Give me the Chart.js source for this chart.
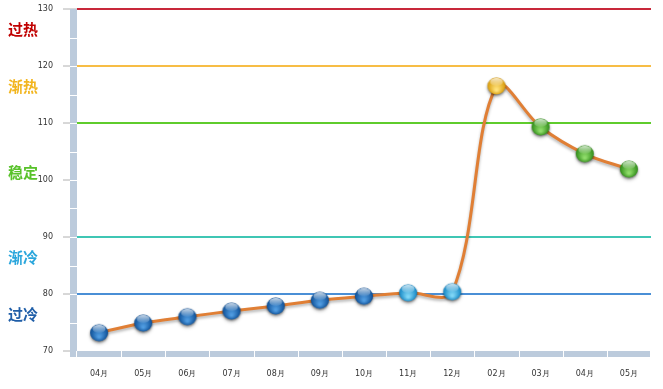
<!DOCTYPE html>
<html><head><meta charset="utf-8">
<script src="https://cdn.jsdelivr.net/npm/chart.js@4/dist/chart.umd.min.js"></script>
<style>html,body{margin:0;padding:0;background:#fff}#wrap{width:663px;height:389px;position:relative}</style>
</head><body><div id="wrap"><canvas id="c" width="663" height="389"></canvas></div>
<script>
const categories = ['04月','05月','06月','07月','08月','09月','10月','11月','12月','02月','03月','04月','05月'];
const values = [73.2, 74.9, 76.0, 77.0, 77.9, 78.9, 79.6, 80.2, 80.4, 116.5, 109.3, 104.6, 101.9];
const yTicks = [70, 80, 90, 100, 110, 120, 130];
const thresholds = [80, 90, 110, 120, 130];
const thresholdColors = ['#4a8fd6', '#3fc6b4', '#5fcc2c', '#f7bd45', '#c8283a'];
const zoneNames = ['过热', '渐热', '稳定', '渐冷', '过冷'];
const zoneLow = [120, 110, 90, 80, 70];
const zoneHigh = [130, 120, 110, 90, 80];
const zoneColors = ['#c00000', '#f2b51e', '#58c22a', '#2aa6dc', '#1f5ea8'];

function sphere(base, light) {
  const s = 22, c = document.createElement('canvas');
  c.width = s; c.height = s;
  const g = c.getContext('2d');
  const r = 9, cx = 11, cy = 11;
  g.shadowColor = 'rgba(0,0,0,0.35)'; g.shadowBlur = 2; g.shadowOffsetY = 1;
  const grad = g.createRadialGradient(cx, cy + 4, 1, cx, cy, r);
  grad.addColorStop(0, light); grad.addColorStop(1, base);
  g.fillStyle = grad; g.beginPath(); g.ellipse(cx, cy, r, r - 0.5, 0, 0, Math.PI * 2); g.fill();
  g.shadowColor = 'transparent';
  const hg = g.createLinearGradient(0, cy - r, 0, cy);
  hg.addColorStop(0, 'rgba(255,255,255,0.85)'); hg.addColorStop(1, 'rgba(255,255,255,0.05)');
  g.fillStyle = hg; g.beginPath(); g.ellipse(cx, cy - 4, 6.5, 4, 0, 0, Math.PI * 2); g.fill();
  return c;
}
const balls = {
  cold: sphere('#0d4f96', '#4f9be0'),
  cool: sphere('#1386c4', '#7fd6f6'),
  stable: sphere('#2f8c18', '#8fdc6a'),
  warm: sphere('#d89a08', '#ffe27a')
};
function ballFor(v) {
  if (v < 80) return balls.cold;
  if (v < 90) return balls.cool;
  if (v < 110) return balls.stable;
  return balls.warm;
}

const decor = {
  id: 'decor',
  beforeDatasetsDraw(chart) {
    const { ctx, chartArea: a, scales: { x, y } } = chart;
    ctx.save();
    ctx.fillStyle = '#bccbdc';
    ctx.fillRect(a.left - 7, a.top, 7, a.bottom - a.top + 6);
    ctx.fillStyle = '#ffffff';
    for (let v = 75; v < 130; v += 5) {
      const py = Math.round(y.getPixelForValue(v));
      ctx.fillRect(a.left - 7, py, 7, 1);
    }
    ctx.fillStyle = '#bccbdc';
    ctx.fillRect(a.left - 7, a.bottom, a.right - a.left + 6, 6);
    ctx.fillStyle = '#ffffff';
    ctx.fillRect(a.left - 1, a.bottom, 1, 6);
    for (let i = 1; i < categories.length; i++) {
      const px = Math.round((x.getPixelForValue(i - 1) + x.getPixelForValue(i)) / 2);
      ctx.fillRect(px, a.bottom, 1, 6);
    }
    ctx.font = 'bold 15px "Noto Sans CJK SC"';
    ctx.textAlign = 'left';
    ctx.textBaseline = 'middle';
    zoneNames.forEach((n, i) => {
      ctx.fillStyle = zoneColors[i];
      const py = y.getPixelForValue((zoneLow[i] + zoneHigh[i]) / 2) - 8;
      ctx.fillText(n, 8, py);
    });
    ctx.restore();
  },
  beforeDatasetDraw(chart) {
    const ctx = chart.ctx;
    ctx.save();
    ctx.shadowColor = 'rgba(0,0,0,0.3)';
    ctx.shadowBlur = 3;
    ctx.shadowOffsetY = 2;
  },
  afterDatasetDraw(chart) { chart.ctx.restore(); }
};

new Chart(document.getElementById('c'), {
  type: 'line',
  data: {
    labels: categories,
    datasets: [{
      data: values,
      borderColor: '#e07f35',
      borderWidth: 3,
      tension: 0.35,
      fill: false,
      clip: false,
      pointStyle: values.map(ballFor),
      pointRadius: 10,
      pointHoverRadius: 10
    }]
  },
  options: {
    responsive: false,
    animation: false,
    events: [],
    layout: { autoPadding: false, padding: { left: 0, right: 12, top: 9, bottom: 0 } },
    plugins: { legend: { display: false }, tooltip: { enabled: false } },
    scales: {
      x: {
        offset: true,
        grid: { display: false },
        border: { display: false },
        ticks: { color: '#333', font: { family: 'DejaVu Sans', size: 8 }, padding: 10, maxRotation: 0, autoSkip: false },
        afterFit(s) { s.height = 38; s.paddingLeft = 0; s.paddingRight = 0; }
      },
      y: {
        min: 70, max: 130,
        afterBuildTicks(s) { s.ticks = yTicks.map(v => ({ value: v })); },
        grid: {
          color: ctx => { const i = thresholds.indexOf(ctx.tick && ctx.tick.value); return i >= 0 ? thresholdColors[i] : 'rgba(0,0,0,0)'; },
          lineWidth: 2,
          tickColor: '#b0b0b0',
          tickLength: 14,
          tickWidth: 1
        },
        border: { display: false },
        ticks: { color: '#333', font: { family: 'DejaVu Sans', size: 8 }, padding: 10 },
        afterFit(s) { s.width = 77; s.paddingTop = 0; s.paddingBottom = 0; }
      }
    }
  },
  plugins: [decor]
});
</script></body></html>
